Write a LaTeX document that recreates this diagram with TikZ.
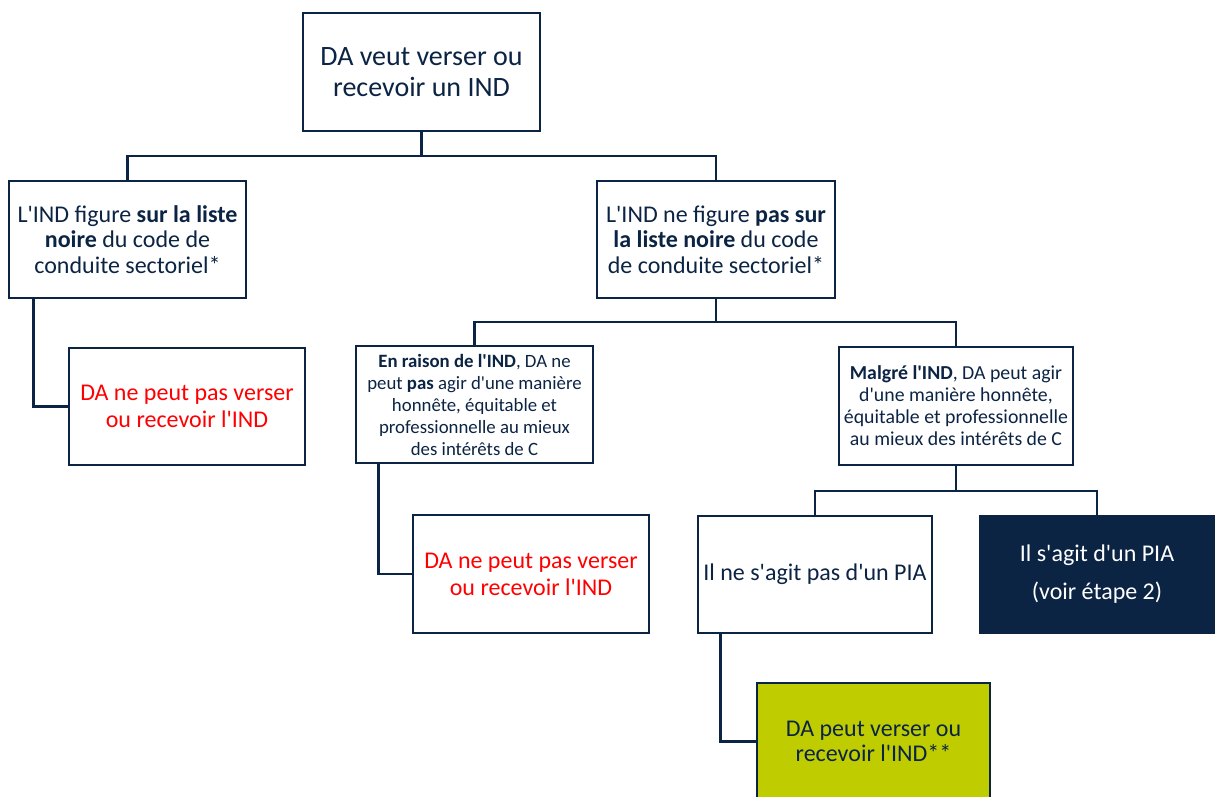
\documentclass[tikz,border=0pt]{standalone}
\usepackage{fontspec}
\newfontfamily\calib{Carlito}
\usetikzlibrary{calc}
\definecolor{navy}{RGB}{12,36,68}
\definecolor{lime}{RGB}{190,204,0}
\definecolor{nored}{RGB}{255,0,0}
\tikzset{
  box/.style={draw=navy, line width=2.6pt, fill=white, rectangle, inner sep=0pt,
    align=center, text=navy, font=\calib},
  big/.style={font=\calib\fontsize{28}{31}\selectfont},
  mid/.style={font=\calib\fontsize{24}{25.5}\selectfont},
  small/.style={font=\calib\fontsize{18.8}{22}\selectfont},
  smallr/.style={font=\calib\fontsize{19.8}{22}\selectfont},
  refuse/.style={text=nored, font=\calib\fontsize{24}{27}\selectfont},
  link/.style={draw=navy, line width=2.6pt},
}
\begin{document}
\begin{tikzpicture}[x=1pt,y=-1pt]
\useasboundingbox (0,0) rectangle (1218,796);
\clip (0,0) rectangle (1218,796);

% decision boxes
\node[box, big, minimum width=237pt, minimum height=118pt] (top) at (421.5,72)
  {DA veut verser ou\\recevoir un IND};
\node[box, mid, minimum width=237pt, minimum height=117pt] (l1) at (127.5,239.5)
  {L'IND figure \textbf{sur la liste}\\\textbf{noire} du code de\\conduite sectoriel*};
\node[box, mid, minimum width=238pt, minimum height=117pt] (r1) at (716,239.5)
  {L'IND ne figure \textbf{pas sur}\\\textbf{la liste noire} du code\\de conduite sectoriel*};
\node[box, refuse, minimum width=236pt, minimum height=117pt] (l2) at (187,406.5)
  {DA ne peut pas verser\\ou recevoir l'IND};
\node[box, small, minimum width=237pt, minimum height=117pt] (m1) at (474.5,404.5)
  {\textbf{En raison de l'IND}, DA ne\\peut \textbf{pas} agir d'une manière\\honnête, équitable et\\professionnelle au mieux\\des intérêts de C};
\node[box, refuse, minimum width=236pt, minimum height=118pt] (m2) at (531,574)
  {DA ne peut pas verser\\ou recevoir l'IND};
\node[box, smallr, minimum width=234pt, minimum height=118pt] (rm) at (956,406)
  {\textbf{Malgré l'IND}, DA peut agir\\d'une manière honnête,\\équitable et professionnelle\\au mieux des intérêts de C};
\node[box, mid, minimum width=234pt, minimum height=117pt] (np) at (815,574.5)
  {Il ne s'agit pas d'un PIA};
\node[box, fill=navy, text=white, font=\calib\fontsize{24}{38}\selectfont,
  minimum width=234pt, minimum height=117pt] (pia) at (1097,574.5)
  {Il s'agit d'un PIA\\(voir étape 2)};
\node[box, mid, fill=lime, minimum width=233pt, minimum height=117pt] (ok) at (873.5,741.5)
  {DA peut verser ou\\recevoir l'IND**};

% junctions of the tree
\coordinate (j1) at (421.5,156);
\coordinate (j2) at (716,322);
\coordinate (j3) at (956,491);

% connectors
\draw[link] (top) -- (j1) -| (l1);
\draw[link] (j1) -| (r1);
\draw[link] ($(l1.south west)+(26,0)$) |- (l2.west);
\draw[link] (r1) -- (j2) -| (m1);
\draw[link] (j2) -| (rm);
\draw[link] ($(m1.south west)+(24,0)$) |- (m2.west);
\draw[link] (rm) -- (j3) -| (np);
\draw[link] (j3) -| (pia);
\draw[link] ($(np.south west)+(24,0)$) |- (ok.west);
\end{tikzpicture}
\end{document}
